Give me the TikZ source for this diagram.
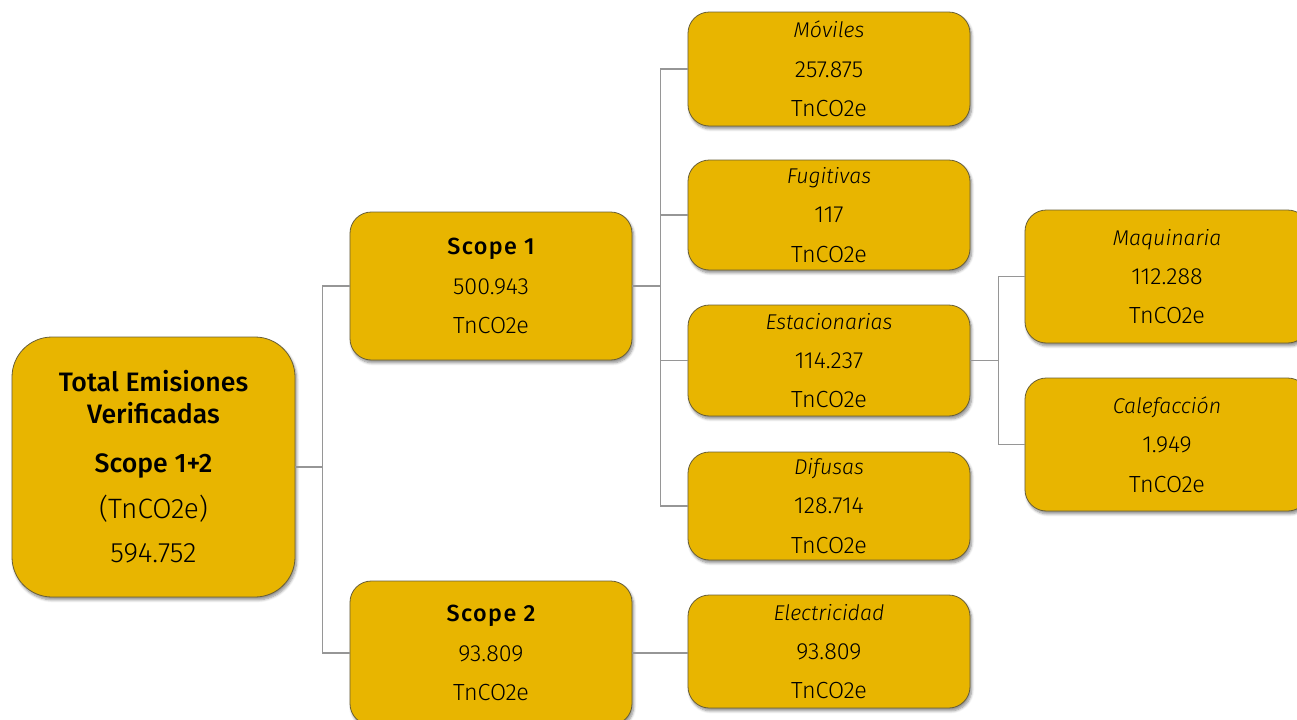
\documentclass[tikz,border=0pt]{standalone}
\usepackage{fontspec}
\setmainfont{Fira Sans}[UprightFont={* Light}, ItalicFont={* Light Italic}, BoldFont={* Medium}]
\usetikzlibrary{shadows.blur}
\definecolor{boxfill}{RGB}{232,181,0}
\definecolor{boxline}{RGB}{105,95,55}
\definecolor{linkgray}{RGB}{150,150,150}
\newcommand{\cattitle}[1]{{\fontsize{16}{29.5}\selectfont\itshape #1}}
\newcommand{\scopetitle}[1]{{\bfseries\addfontfeature{LetterSpace=6}#1}}
\tikzset{
  box/.style={draw=boxline, line width=0.6pt, fill=boxfill, rounded corners=16pt,
    align=center, inner sep=0pt, text=black,
    font=\fontsize{17.5}{29.5}\selectfont,
    blur shadow={shadow blur steps=6, shadow xshift=1.2pt, shadow yshift=-2.2pt, shadow opacity=45, shadow blur radius=2pt}},
  smallbox/.style={box, minimum width=211.5pt},
  link/.style={draw=linkgray, line width=0.8pt},
}
\begin{document}
\begin{tikzpicture}[x=0.75pt, y=-0.75pt]
\useasboundingbox (0,0) rectangle (1297,719);
\clip (0,0) rectangle (1297,719);
% boxes
\node[box, rounded corners=30pt, minimum width=212.25pt, minimum height=195pt, font=\fontsize{20}{24}\selectfont] (tot) at (153.5,467)
  {\textbf{Total Emisiones}\\\textbf{Verificadas}\\[12.75pt]\textbf{Scope 1+2}\\[10.5pt]{\fontsize{21}{24}\selectfont(TnCO2e)}\\[9pt]{\fontsize{21}{24}\selectfont 594.752}};
\node[smallbox, minimum height=111pt] (s1) at (491,286) {\scopetitle{Scope 1}\\500.943\\TnCO2e};
\node[smallbox, minimum height=108pt] (s2) at (491,653) {\scopetitle{Scope 2}\\93.809\\TnCO2e};
\node[smallbox, minimum height=85.5pt] (mov) at (829,69) {\cattitle{Móviles}\\257.875\\TnCO2e};
\node[smallbox, minimum height=82.5pt] (fug) at (829,215) {\cattitle{Fugitivas}\\117\\TnCO2e};
\node[smallbox, minimum height=83.25pt] (est) at (829,360.5) {\cattitle{Estacionarias}\\114.237\\TnCO2e};
\node[smallbox, minimum height=81pt] (dif) at (829,506) {\cattitle{Difusas}\\128.714\\TnCO2e};
\node[smallbox, minimum height=84.75pt] (ele) at (829,651.5) {\cattitle{Electricidad}\\93.809\\TnCO2e};
\node[box, minimum width=213pt, minimum height=99.75pt] (maq) at (1167,276.5) {\cattitle{Maquinaria}\\112.288\\TnCO2e};
\node[box, minimum width=213pt, minimum height=99.75pt] (cal) at (1167,444.5) {\cattitle{Calefacción}\\1.949\\TnCO2e};
% connectors
\coordinate (j1) at ([xshift=27*0.75pt]tot.east);
\draw[link] (tot.east) -- (j1) |- (s1.west);
\draw[link] (j1) |- (s2.west);
\coordinate (j2) at ([xshift=28*0.75pt]s1.east);
\draw[link] (s1.east) -- (j2) |- (mov.west);
\draw[link] (j2) |- (fug.west);
\draw[link] (j2) |- (est.west);
\draw[link] (j2) |- (dif.west);
\coordinate (j3) at ([xshift=28*0.75pt]est.east);
\draw[link] (est.east) -- (j3) |- (maq.west);
\draw[link] (j3) |- (cal.west);
\draw[link] (s2.east) -- (s2.east -| ele.west);
\end{tikzpicture}
\end{document}
